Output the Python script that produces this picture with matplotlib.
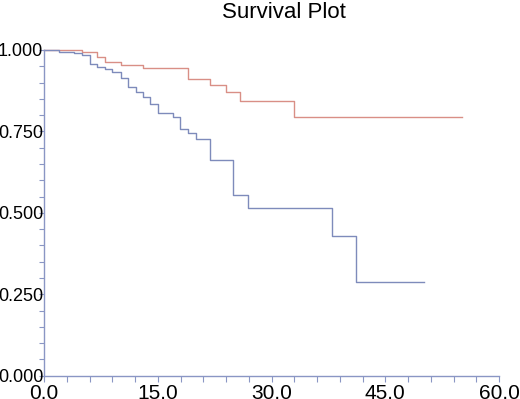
import matplotlib
matplotlib.use("Agg")
import matplotlib.pyplot as plt
from matplotlib.ticker import MultipleLocator, FormatStrFormatter

red_times = [0, 4.97, 7.0, 8.0, 10.1, 13.1, 18.95, 21.9, 24.0, 25.9, 33.0, 55.1]
red_surv = [1.0, 0.993, 0.979, 0.962, 0.954, 0.944, 0.912, 0.893, 0.870, 0.843, 0.794, 0.794]

blue_times = [0, 2.0, 4.0, 5.0, 6.0, 7.0, 8.0, 9.0, 10.1, 11.1, 12.1, 13.1, 14.0,
              15.0, 17.0, 17.9, 19.0, 20.0, 21.9, 24.9, 26.9, 38.0, 41.1, 50.1]
blue_surv = [1.0, 0.993, 0.990, 0.985, 0.956, 0.947, 0.941, 0.931, 0.915, 0.887, 0.872,
             0.857, 0.834, 0.808, 0.793, 0.758, 0.744, 0.726, 0.662, 0.554, 0.514,
             0.430, 0.288, 0.288]

title = "Survival Plot"

plt.rcParams['font.family'] = ['Liberation Sans', 'DejaVu Sans']

W, H = 520, 399
fig = plt.figure(figsize=(W / 100, H / 100), dpi=100)
ax = fig.add_axes([44 / W, (H - 375.7) / H, (499 - 44) / W, (375.7 - 50) / H])

axis_color = "#8a96c4"
ax.step(red_times, red_surv, where='post', color="#d98f86", lw=1.0, clip_on=False)
ax.step(blue_times, blue_surv, where='post', color="#7e8bbb", lw=1.0, clip_on=False)

ax.set_xlim(0, 60)
ax.set_ylim(0, 1.0)
ax.xaxis.set_major_locator(MultipleLocator(15))
ax.xaxis.set_minor_locator(MultipleLocator(3))
ax.yaxis.set_major_locator(MultipleLocator(0.25))
ax.yaxis.set_minor_locator(MultipleLocator(0.05))
ax.xaxis.set_major_formatter(FormatStrFormatter('%.1f'))
ax.yaxis.set_major_formatter(FormatStrFormatter('%.3f'))

for s in ['top', 'right']:
    ax.spines[s].set_visible(False)
for s in ['left', 'bottom']:
    ax.spines[s].set_color(axis_color)
    ax.spines[s].set_linewidth(1.0)

ax.tick_params(axis='both', which='both', direction='out', color=axis_color,
               width=0.8, labelcolor='black')
ax.tick_params(axis='x', which='both', length=4.3, pad=2, labelsize=15)
ax.tick_params(axis='y', which='both', length=3.6, labelsize=13)
ax.tick_params(axis='y', which='major', pad=-3.0)

fig.text(284 / W, (H - 17.5) / H, title, ha='center', va='baseline', fontsize=16)

fig.savefig("out.png", dpi=100)
